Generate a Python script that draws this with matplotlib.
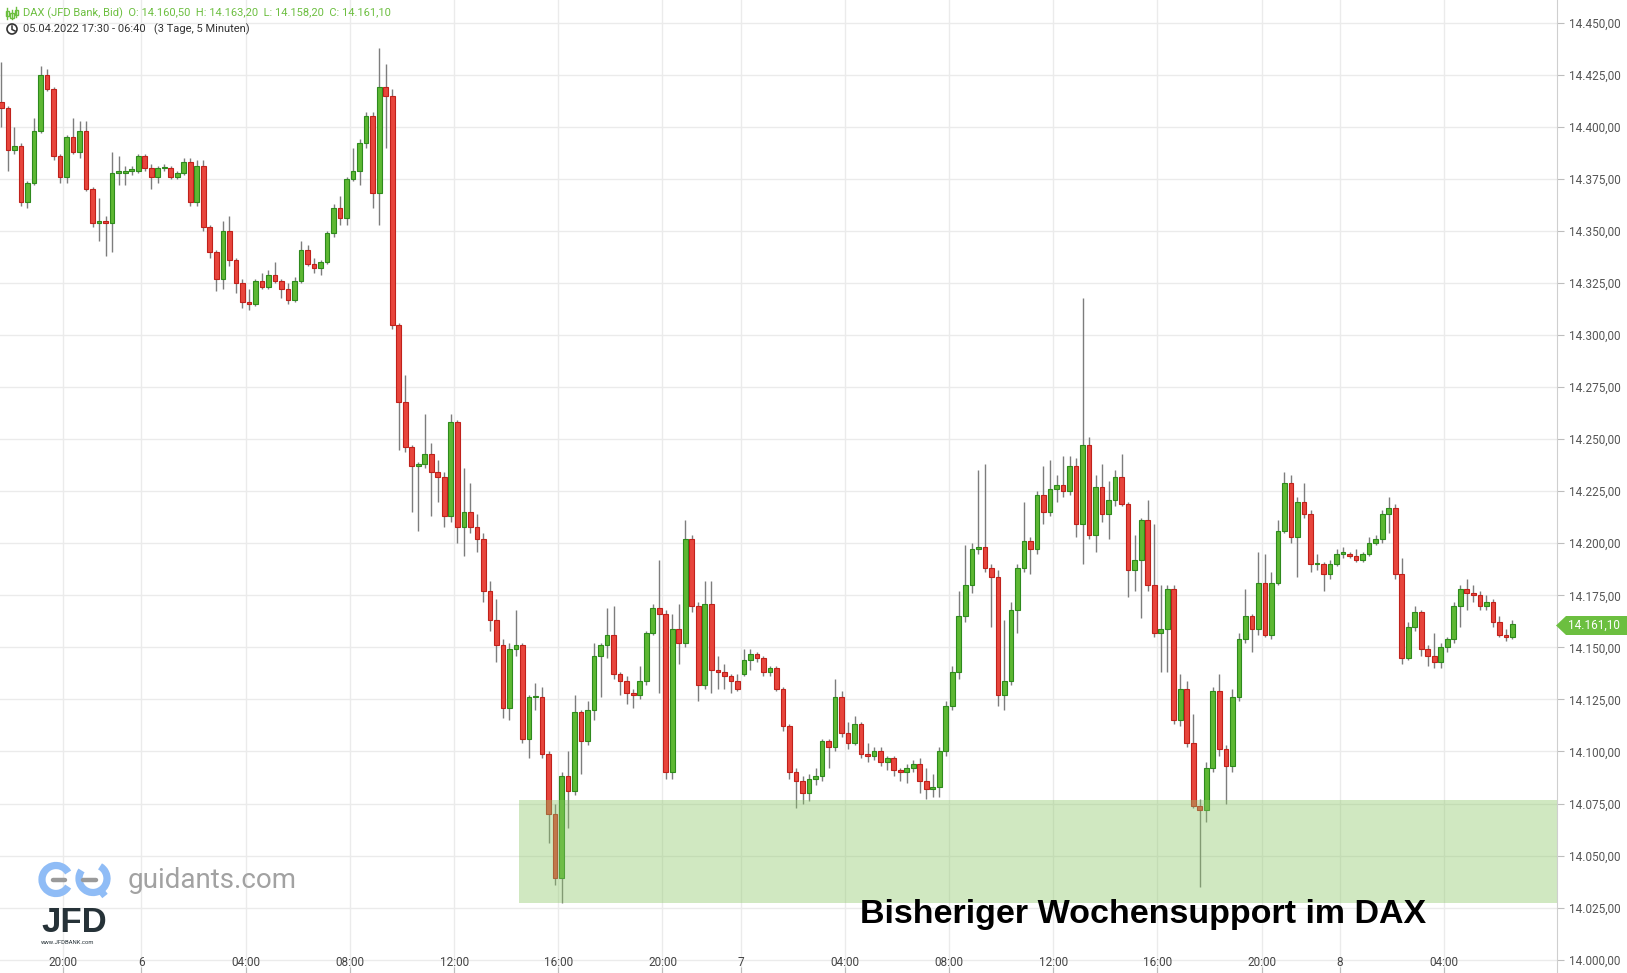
import matplotlib
matplotlib.use("Agg")
import matplotlib.pyplot as plt
from matplotlib.patches import Rectangle, Polygon, Arc, Circle
import numpy as np

# DAX (JFD Bank, Bid), aggregated to 15 minute candles
opens = [14412, 14409, 14389, 14391, 14364, 14373, 14398, 14425, 14418, 14386,
         14376, 14395, 14388, 14398, 14370, 14354, 14355, 14354, 14378, 14378,
         14379, 14379, 14386, 14380, 14376, 14380, 14380, 14376, 14378, 14383,
         14364, 14381, 14352, 14340, 14327, 14350, 14336, 14325, 14316, 14315,
         14326, 14323, 14329, 14326, 14322, 14317, 14326, 14341, 14334, 14332,
         14335, 14349, 14361, 14356, 14375, 14379, 14392, 14405, 14368, 14419,
         14415, 14305, 14268, 14246, 14237, 14238, 14243, 14234, 14232, 14213,
         14258, 14208, 14215, 14208, 14202, 14177, 14163, 14151, 14121, 14149,
         14151, 14106, 14126, 14126, 14099, 14070, 14039, 14088, 14081, 14119,
         14105, 14120, 14146, 14151, 14156, 14137, 14134, 14128, 14127, 14134,
         14157, 14169, 14166, 14090, 14159, 14152, 14202, 14170, 14132, 14171,
         14139, 14138, 14136, 14134, 14137, 14144, 14147, 14145, 14138, 14140,
         14130, 14112, 14090, 14086, 14080, 14087, 14088, 14105, 14102, 14126,
         14109, 14104, 14113, 14099, 14098, 14100, 14095, 14097, 14091, 14090,
         14092, 14094, 14086, 14082, 14083, 14100, 14122, 14138, 14165, 14180,
         14197, 14198, 14188, 14184, 14127, 14134, 14168, 14188, 14201, 14197,
         14223, 14215, 14226, 14228, 14225, 14237, 14209, 14247, 14204, 14227,
         14214, 14221, 14232, 14219, 14187, 14192, 14211, 14180, 14157, 14159,
         14178, 14115, 14130, 14104, 14074, 14072, 14092, 14129, 14101, 14093,
         14126, 14154, 14165, 14159, 14181, 14156, 14181, 14206, 14229, 14203,
         14220, 14214, 14190, 14190, 14185, 14190, 14195, 14195, 14194, 14192,
         14195, 14200, 14202, 14214, 14217, 14185, 14145, 14160, 14167, 14149,
         14146, 14143, 14150, 14154, 14170, 14178, 14176, 14175, 14170, 14172,
         14162, 14156, 14155]
highs = [14431, 14410, 14400, 14392, 14374, 14404, 14429, 14428, 14419, 14387,
         14396, 14404, 14403, 14403, 14371, 14366, 14357, 14388, 14386, 14381,
         14381, 14387, 14387, 14382, 14381, 14382, 14381, 14379, 14385, 14385,
         14384, 14384, 14353, 14341, 14355, 14357, 14337, 14327, 14322, 14327,
         14330, 14331, 14335, 14327, 14325, 14328, 14345, 14343, 14337, 14336,
         14350, 14363, 14367, 14376, 14390, 14394, 14407, 14407, 14438, 14430,
         14418, 14306, 14281, 14247, 14239, 14262, 14248, 14240, 14234, 14262,
         14259, 14236, 14229, 14214, 14205, 14182, 14173, 14154, 14152, 14168,
         14152, 14127, 14133, 14131, 14100, 14075, 14090, 14100, 14127, 14120,
         14124, 14152, 14152, 14169, 14170, 14138, 14136, 14130, 14141, 14158,
         14171, 14192, 14168, 14166, 14171, 14211, 14204, 14172, 14182, 14182,
         14146, 14142, 14137, 14137, 14149, 14149, 14148, 14146, 14141, 14141,
         14131, 14113, 14092, 14088, 14089, 14092, 14106, 14106, 14135, 14129,
         14114, 14117, 14114, 14104, 14102, 14102, 14098, 14098, 14092, 14094,
         14096, 14097, 14092, 14089, 14102, 14124, 14141, 14177, 14199, 14200,
         14235, 14238, 14190, 14187, 14163, 14172, 14190, 14220, 14203, 14225,
         14237, 14240, 14233, 14242, 14242, 14241, 14318, 14251, 14233, 14238,
         14230, 14235, 14243, 14220, 14204, 14212, 14221, 14209, 14180, 14180,
         14180, 14137, 14134, 14118, 14077, 14095, 14131, 14137, 14103, 14130,
         14157, 14178, 14166, 14196, 14195, 14186, 14211, 14234, 14233, 14222,
         14229, 14216, 14195, 14191, 14192, 14197, 14198, 14196, 14197, 14196,
         14203, 14204, 14216, 14222, 14219, 14193, 14162, 14170, 14168, 14151,
         14157, 14152, 14155, 14172, 14180, 14183, 14180, 14177, 14175, 14173,
         14165, 14159, 14163.2]
lows = [14400, 14379, 14387, 14362, 14361, 14372, 14397, 14417, 14384, 14373,
        14373, 14387, 14385, 14369, 14352, 14345, 14338, 14340, 14372, 14372,
        14377, 14378, 14379, 14370, 14373, 14379, 14375, 14375, 14377, 14362,
        14362, 14350, 14337, 14321, 14322, 14333, 14320, 14313, 14312, 14314,
        14322, 14322, 14325, 14318, 14315, 14316, 14325, 14333, 14330, 14329,
        14334, 14347, 14353, 14353, 14374, 14372, 14390, 14361, 14353, 14390,
        14303, 14245, 14244, 14215, 14206, 14236, 14213, 14220, 14208, 14210,
        14200, 14194, 14205, 14196, 14172, 14158, 14143, 14116, 14115, 14146,
        14104, 14097, 14120, 14097, 14056, 14036, 14027, 14063, 14079, 14089,
        14103, 14115, 14126, 14145, 14135, 14127, 14123, 14121, 14125, 14132,
        14156, 14128, 14087, 14087, 14142, 14150, 14167, 14124, 14130, 14128,
        14130, 14130, 14128, 14129, 14136, 14139, 14143, 14136, 14136, 14129,
        14110, 14087, 14073, 14075, 14076, 14084, 14086, 14092, 14100, 14107,
        14101, 14103, 14097, 14095, 14096, 14093, 14091, 14088, 14086, 14085,
        14090, 14080, 14077, 14078, 14078, 14098, 14120, 14135, 14162, 14176,
        14195, 14186, 14160, 14122, 14120, 14132, 14157, 14186, 14185, 14195,
        14209, 14213, 14220, 14222, 14223, 14203, 14190, 14202, 14196, 14210,
        14202, 14218, 14218, 14174, 14177, 14164, 14177, 14155, 14138, 14138,
        14113, 14112, 14102, 14073, 14035, 14066, 14090, 14098, 14075, 14090,
        14124, 14152, 14148, 14156, 14155, 14154, 14180, 14205, 14200, 14184,
        14212, 14186, 14187, 14177, 14183, 14189, 14193, 14193, 14191, 14191,
        14194, 14199, 14200, 14205, 14183, 14142, 14144, 14158, 14146, 14141,
        14140, 14140, 14148, 14152, 14160, 14168, 14172, 14168, 14168, 14160,
        14155, 14153, 14154]
closes = [14409, 14389, 14391, 14364, 14373, 14398, 14425, 14418, 14386, 14376,
          14395, 14388, 14398, 14370, 14354, 14355, 14354, 14378, 14378, 14379,
          14379, 14386, 14380, 14376, 14380, 14380, 14376, 14378, 14383, 14364,
          14381, 14352, 14340, 14327, 14350, 14336, 14325, 14316, 14315, 14326,
          14323, 14329, 14326, 14322, 14317, 14326, 14341, 14334, 14332, 14335,
          14349, 14361, 14356, 14375, 14379, 14392, 14405, 14368, 14419, 14415,
          14305, 14268, 14246, 14237, 14238, 14243, 14234, 14232, 14213, 14258,
          14208, 14215, 14208, 14202, 14177, 14163, 14151, 14121, 14149, 14151,
          14106, 14126, 14126, 14099, 14070, 14039, 14088, 14081, 14119, 14105,
          14120, 14146, 14151, 14156, 14137, 14134, 14128, 14127, 14134, 14157,
          14169, 14166, 14090, 14159, 14152, 14202, 14170, 14132, 14171, 14139,
          14138, 14136, 14134, 14130, 14144, 14147, 14145, 14138, 14140, 14130,
          14112, 14090, 14086, 14080, 14087, 14088, 14105, 14102, 14126, 14109,
          14104, 14113, 14099, 14098, 14100, 14095, 14097, 14091, 14090, 14092,
          14094, 14086, 14082, 14083, 14100, 14122, 14138, 14165, 14180, 14197,
          14198, 14188, 14184, 14127, 14134, 14168, 14188, 14201, 14197, 14223,
          14215, 14226, 14228, 14225, 14237, 14209, 14247, 14204, 14227, 14214,
          14221, 14232, 14219, 14187, 14192, 14211, 14180, 14157, 14159, 14178,
          14115, 14130, 14104, 14074, 14072, 14092, 14129, 14101, 14093, 14126,
          14154, 14165, 14159, 14181, 14156, 14181, 14206, 14229, 14203, 14220,
          14214, 14190, 14190, 14185, 14190, 14195, 14195, 14194, 14192, 14195,
          14200, 14202, 14214, 14217, 14185, 14145, 14160, 14167, 14149, 14146,
          14143, 14150, 14154, 14170, 14178, 14176, 14175, 14170, 14172, 14162,
          14156, 14155, 14161.1]

# x axis in 15 minute steps from 05.04. 17:30 (23:00-00:00 gap left out)
tick_pos = [10, 22, 38, 54, 70, 86, 102, 114, 130, 146, 162, 178, 194, 206, 222]
tick_labels = ["20:00", "6", "04:00", "08:00", "12:00", "16:00", "20:00", "7",
               "04:00", "08:00", "12:00", "16:00", "20:00", "8", "04:00"]
price_ticks = list(range(14000, 14451, 25))

support_start = 80          # 06.04. 14:30
support_low, support_high = 14027.3, 14076.7
last_price = 14161.10

W, H = 1627, 973
plt.rcParams['font.family'] = ['Roboto', 'DejaVu Sans']


def de_num(v):
    return f"{v:,.2f}".replace(",", "X").replace(".", ",").replace("X", ".")


fig = plt.figure(figsize=(W / 100, H / 100), dpi=100)
fig.patch.set_facecolor('white')
ax = fig.add_axes([0, 0, 1556.7 / W, 1])
ax.set_xlim(0.28, 239.3)
ax.set_ylim(13993.6, 14460.9)

# grid
ax.set_yticks(price_ticks)
ax.set_xticks(tick_pos)
ax.grid(True, color='#ebebeb', lw=1, zorder=0)
ax.set_axisbelow(True)
for s in ['top', 'left', 'bottom']:
    ax.spines[s].set_visible(False)
ax.spines['right'].set_color('#cfcfcf')
ax.yaxis.tick_right()
ax.set_yticklabels([de_num(p) for p in price_ticks])
ax.tick_params(axis='y', length=5, color='#bdbdbd', pad=4, labelsize=8.5,
               labelcolor='#555555')
ax.tick_params(axis='x', direction='in', length=4, color='#bdbdbd',
               labelbottom=False)
xt = ax.get_xaxis_transform()
for p, lab in zip(tick_pos, tick_labels):
    ax.text(p, 1 - 963 / H, lab, transform=xt, ha='center', va='center',
            fontsize=8.5, color='#444444')

# candles
o = np.array(opens, float)
h = np.array(highs, float)
l = np.array(lows, float)
c = np.array(closes, float)
x = np.arange(len(o)) + 0.5
up = c >= o
ax.vlines(x, l, h, color='#7d7d7d', lw=1, zorder=2)
bot = np.minimum(o, c)
hgt = np.maximum(np.abs(c - o), 0.7)
ax.bar(x[up], hgt[up], bottom=bot[up], width=0.72, color='#5db833',
       edgecolor='#2e8a1d', lw=0.8, zorder=3)
ax.bar(x[~up], hgt[~up], bottom=bot[~up], width=0.72, color='#e8453c',
       edgecolor='#c0211b', lw=0.8, zorder=3)

# support zone
ax.add_patch(Rectangle((support_start, support_low), 300, support_high - support_low,
                       facecolor='#8bc766', alpha=0.4, lw=0, zorder=4))
ax.text(0.5 * (861 + 1425) / 1556.7, 1 - 914 / H, "Bisheriger Wochensupport im DAX",
        transform=ax.transAxes, ha='center', va='center', fontsize=24.5,
        fontweight='bold', family='Liberation Sans', color='black', zorder=6)

# overlay in pixel coordinates for header, logos and price tag
ov = fig.add_axes([0, 0, 1, 1], zorder=10)
ov.set_xlim(0, W)
ov.set_ylim(H, 0)
ov.axis('off')
ov.patch.set_alpha(0)

green = '#6cbf40'
# header icon (small candles)
for cx, y0, y1 in [(7.5, 8, 19), (12, 10, 19), (16.5, 7, 17)]:
    ov.plot([cx, cx], [y0, y1], color=green, lw=1)
    ov.add_patch(Rectangle((cx - 1.8, y0 + 3), 3.6, 5, facecolor='white',
                           edgecolor=green, lw=1))
ov.text(23, 13, "DAX (JFD Bank, Bid)  O: 14.160,50  H: 14.163,20  L: 14.158,20  C: 14.161,10",
        ha='left', va='center', fontsize=8, color=green)
ov.add_patch(Circle((12, 29), 5, facecolor='none', edgecolor='#333333', lw=1.2))
ov.plot([12, 12, 15], [26, 29.5, 31], color='#333333', lw=1.1)
ov.text(23, 29, "05.04.2022 17:30 - 06:40   (3 Tage, 5 Minuten)",
        ha='left', va='center', fontsize=8, color='#333333')

# price tag
ov.add_patch(Polygon([(1556, 625.5), (1566, 616), (W, 616), (W, 635), (1566, 635)],
                     closed=True, facecolor=green, edgecolor='none'))
ov.text(1568, 625.5, de_num(last_price), ha='left', va='center', fontsize=8.5,
        color='white')

# guidants / JFD watermark
blue = '#8fbcf6'
ov.add_patch(Arc((56, 879.5), 28, 28, theta1=30, theta2=330, lw=5.2, color=blue))
ov.add_patch(Arc((93, 878.5), 28, 28, theta1=-60, theta2=215, lw=5.2, color=blue))
ov.plot([101, 105], [891, 896], color=blue, lw=5, solid_capstyle='butt')
ov.plot([53, 65], [880, 880], color='#9a9a9a', lw=3.2, solid_capstyle='round')
ov.plot([83, 96], [880, 880], color='#9a9a9a', lw=3.2, solid_capstyle='round')
ov.text(128, 880, "guidants.com", ha='left', va='center', fontsize=20,
        color='#a2a2a2')
ov.text(41, 922, "JFD", ha='left', va='center', fontsize=25, fontweight='bold',
        family='Liberation Sans', color='#263238')
ov.text(41, 942, "www.JFDBANK.com", ha='left', va='center', fontsize=4.2,
        color='#263238')

fig.savefig("out.png", dpi=100, facecolor='white')
